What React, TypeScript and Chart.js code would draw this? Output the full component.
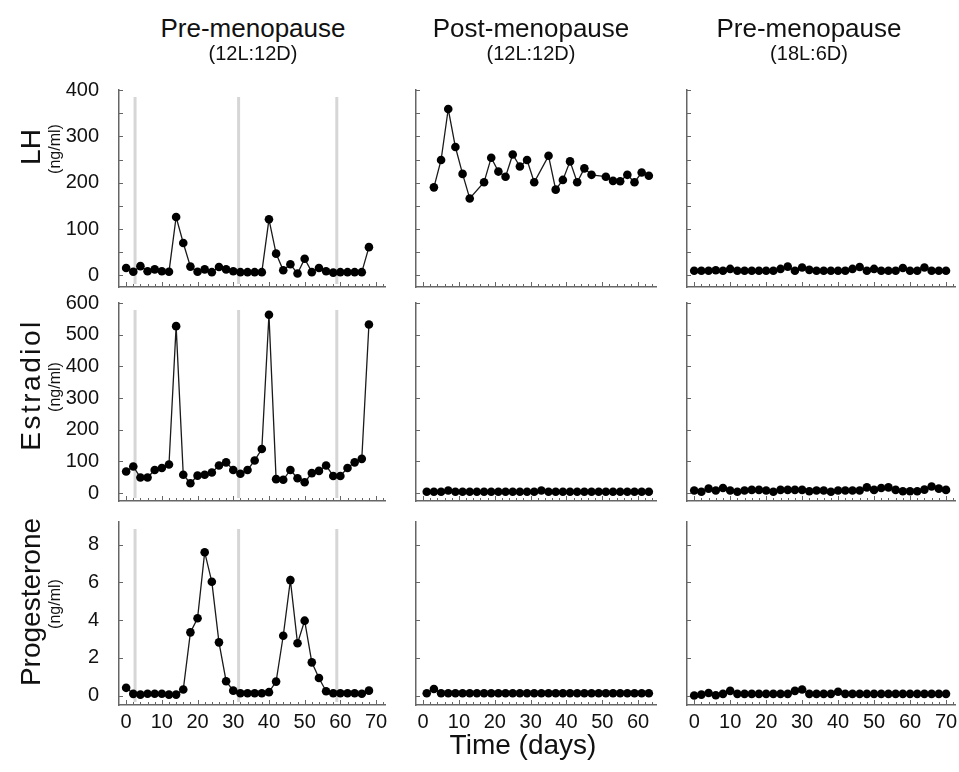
import React, { useEffect, useRef } from "react";
import { Chart, registerables } from "chart.js";

Chart.register(...registerables);

// ---------------- DATA ----------------
// Sampling days
const DAYS_PRE_12 = [0, 2, 4, 6, 8, 10, 12, 14, 16, 18, 20, 22, 24, 26, 28, 30, 32, 34, 36, 38, 40, 42, 44, 46, 48, 50, 52, 54, 56, 58, 60, 62, 64, 66, 68];
const DAYS_POST_LH = [3, 5, 7, 9, 11, 13, 17, 19, 21, 23, 25, 27, 29, 31, 35, 37, 39, 41, 43, 45, 47, 51, 53, 55, 57, 59, 61, 63];
const DAYS_POST = [1, 3, 5, 7, 9, 11, 13, 15, 17, 19, 21, 23, 25, 27, 29, 31, 33, 35, 37, 39, 41, 43, 45, 47, 49, 51, 53, 55, 57, 59, 61, 63];
const DAYS_PRE_18 = [0, 2, 4, 6, 8, 10, 12, 14, 16, 18, 20, 22, 24, 26, 28, 30, 32, 34, 36, 38, 40, 42, 44, 46, 48, 50, 52, 54, 56, 58, 60, 62, 64, 66, 68, 70];

// LH (ng/ml)
const LH_PRE_12 = [16, 8, 20, 9, 13, 9, 8, 126, 70, 19, 8, 13, 7, 18, 13, 9, 7, 7, 7, 7, 121, 47, 11, 24, 4, 36, 7, 16, 9, 6, 7, 7, 7, 7, 61];
const LH_POST = [190, 249, 359, 277, 219, 166, 201, 254, 224, 213, 261, 235, 249, 201, 258, 185, 206, 246, 201, 231, 217, 213, 204, 203, 217, 201, 222, 215];
const LH_PRE_18 = [10, 10, 10, 11, 10, 14, 10, 10, 10, 10, 10, 10, 14, 19, 10, 17, 12, 10, 10, 10, 10, 10, 14, 18, 10, 14, 10, 10, 10, 16, 10, 10, 17, 10, 10, 10];

// Estradiol (ng/ml)
const E2_PRE_12 = [68, 84, 49, 49, 73, 79, 90, 527, 58, 31, 55, 58, 65, 87, 97, 73, 61, 73, 103, 139, 563, 44, 42, 73, 47, 34, 63, 70, 87, 54, 54, 79, 97, 108, 532];
const E2_POST = [4, 4, 4, 8, 4, 4, 4, 4, 4, 4, 4, 4, 4, 4, 4, 4, 8, 4, 4, 4, 4, 4, 4, 4, 4, 4, 4, 4, 4, 4, 4, 4];
const E2_PRE_18 = [8, 4, 14, 8, 16, 8, 4, 8, 10, 10, 8, 4, 10, 10, 10, 10, 6, 8, 8, 4, 8, 8, 8, 8, 18, 10, 16, 18, 10, 6, 6, 6, 11, 21, 14, 10];

// Progesterone (ng/ml)
const P4_PRE_12 = [0.41, 0.09, 0.05, 0.1, 0.1, 0.1, 0.05, 0.05, 0.32, 3.35, 4.1, 7.6, 6.03, 2.82, 0.76, 0.26, 0.12, 0.12, 0.12, 0.12, 0.18, 0.74, 3.17, 6.12, 2.77, 3.97, 1.76, 0.93, 0.23, 0.12, 0.12, 0.12, 0.12, 0.1, 0.26];
const P4_POST = [0.12, 0.35, 0.12, 0.12, 0.12, 0.12, 0.12, 0.12, 0.12, 0.12, 0.12, 0.12, 0.12, 0.12, 0.12, 0.12, 0.12, 0.12, 0.12, 0.12, 0.12, 0.12, 0.12, 0.12, 0.12, 0.12, 0.12, 0.12, 0.12, 0.12, 0.12, 0.12];
const P4_PRE_18 = [0.0, 0.05, 0.14, 0.02, 0.09, 0.25, 0.09, 0.09, 0.09, 0.09, 0.09, 0.09, 0.09, 0.09, 0.25, 0.32, 0.09, 0.09, 0.09, 0.09, 0.2, 0.09, 0.09, 0.09, 0.09, 0.09, 0.09, 0.09, 0.09, 0.09, 0.09, 0.09, 0.09, 0.09, 0.09, 0.09];

// Tick labels
const X_LABELS_70 = [0, 10, 20, 30, 40, 50, 60, 70];
const X_LABELS_60 = [0, 10, 20, 30, 40, 50, 60];
const LH_LABELS = [0, 100, 200, 300, 400];
const E2_LABELS = [0, 100, 200, 300, 400, 500, 600];
const P4_LABELS = [0, 2, 4, 6, 8];

// Lights-off markers (pre-menopause 12L:12D)
const LIGHTS_MARKS = [2.5, 31.5, 59];

const COL_TITLES = ["Pre-menopause", "Post-menopause", "Pre-menopause"];
const COL_SUBTITLES = ["(12L:12D)", "(12L:12D)", "(18L:6D)"];
const ROW_TITLES = ["LH", "Estradiol", "Progesterone"];
const ROW_UNIT = "(ng/ml)";
const X_TITLE = "Time (days)";

// ---------------- LAYOUT / STYLE ----------------
const FONT = '"Liberation Sans", Arial, Helvetica, sans-serif';
const TEXT = "#111";
const AXIS = "#666";
const LIGHT = "#d6d6d6";
const LINE = "#1a1a1a";

const COLS = [
  { left: 119, right: 385, xMax: 72.5 },
  { left: 416, right: 656, xMax: 65 },
  { left: 687, right: 955, xMax: 72.5 },
];
const ROWS = [
  { top: 90, bottom: 287 },
  { top: 303, bottom: 501 },
  { top: 522, bottom: 705 },
];
const PAD_L = 80;
const PAD_R = 20;
const PAD_T = 40;
const PAD_B = 40;

type PanelProps = {
  xs: number[];
  ys: number[];
  col: number;
  row: number;
  xLabels: number[];
  yMin: number;
  yMax: number;
  yLabels: number[];
  yMarkStep: number;
  marks: number[];
};

function Panel(p: PanelProps) {
  const ref = useRef<HTMLCanvasElement>(null);
  const c = COLS[p.col];
  const r = ROWS[p.row];
  const W = c.right - c.left + PAD_L + PAD_R;
  const H = r.bottom - r.top + PAD_T + PAD_B;
  const showX = p.row === 2;
  const showY = p.col === 0;

  useEffect(() => {
    const decor = {
      id: "decor",
      beforeDatasetsDraw(chart: any) {
        const { ctx, chartArea: a, scales } = chart;
        const sx = scales.x;
        const sy = scales.y;
        ctx.save();
        ctx.strokeStyle = LIGHT;
        ctx.lineWidth = 3;
        for (const d of p.marks) {
          const x = sx.getPixelForValue(d);
          ctx.beginPath();
          ctx.moveTo(x, a.top + 7);
          ctx.lineTo(x, a.bottom - 3);
          ctx.stroke();
        }
        ctx.strokeStyle = AXIS;
        ctx.lineWidth = 1;
        for (let v = 0; v <= c.xMax; v += 2) {
          const x = Math.round(sx.getPixelForValue(v)) + 0.5;
          const len = v % 10 === 0 ? 5 : 3;
          ctx.beginPath();
          ctx.moveTo(x, a.bottom);
          ctx.lineTo(x, a.bottom - len);
          ctx.stroke();
        }
        for (let v = 0; v <= p.yMax + 1e-9; v += p.yMarkStep) {
          const y = Math.round(sy.getPixelForValue(v)) + 0.5;
          ctx.beginPath();
          ctx.moveTo(a.left, y);
          ctx.lineTo(a.left + 4, y);
          ctx.stroke();
        }
        ctx.restore();
      },
    };

    const chart = new Chart(ref.current as HTMLCanvasElement, {
      type: "line",
      data: {
        datasets: [
          {
            data: p.xs.map((x, i) => ({ x, y: p.ys[i] })),
            borderColor: LINE,
            borderWidth: 1.3,
            pointRadius: 4.3,
            pointBackgroundColor: "#000",
            pointBorderColor: "#000",
            pointBorderWidth: 0,
            tension: 0,
            fill: false,
          },
        ],
      },
      options: {
        responsive: false,
        animation: false,
        events: [],
        layout: { padding: { left: 0, top: PAD_T, right: PAD_R, bottom: 0 } },
        plugins: {
          legend: { display: false },
          tooltip: { enabled: false },
          title: { display: false },
        },
        scales: {
          x: {
            type: "linear",
            min: -2,
            max: c.xMax,
            grid: { display: false, drawTicks: false },
            border: { display: true, color: AXIS, width: 1.5 },
            ticks: {
              display: showX,
              padding: 5,
              autoSkip: false,
              maxRotation: 0,
              color: TEXT,
              font: { family: FONT, size: 20 },
            },
            afterBuildTicks: (s: any) => {
              s.ticks = p.xLabels.map((v) => ({ value: v }));
            },
            afterFit: (s: any) => {
              s.height = PAD_B;
            },
          },
          y: {
            type: "linear",
            min: p.yMin,
            max: p.yMax,
            grid: { display: false, drawTicks: false },
            border: { display: true, color: AXIS, width: 1.5 },
            ticks: {
              display: showY,
              padding: 20,
              color: TEXT,
              font: { family: FONT, size: 20 },
            },
            afterBuildTicks: (s: any) => {
              s.ticks = p.yLabels.map((v) => ({ value: v }));
            },
            afterFit: (s: any) => {
              s.width = PAD_L;
            },
          },
        },
      } as any,
      plugins: [decor],
    });
    return () => chart.destroy();
  }, []);

  return (
    <canvas
      ref={ref}
      width={W}
      height={H}
      style={{ position: "absolute", left: c.left - PAD_L, top: r.top - PAD_T, width: W, height: H }}
    />
  );
}

function Label(props: { text: string; x: number; y: number; size: number; rotate?: boolean; spacing?: number }) {
  return (
    <div
      style={{
        position: "absolute",
        left: props.x,
        top: props.y,
        transform: `translate(-50%, -50%)${props.rotate ? " rotate(-90deg)" : ""}`,
        fontFamily: FONT,
        fontSize: props.size,
        color: TEXT,
        whiteSpace: "nowrap",
        lineHeight: 1,
        letterSpacing: props.spacing ? props.spacing + "px" : undefined,
      }}
    >
      {props.text}
    </div>
  );
}

export default function App() {
  const panels: PanelProps[] = [
    { xs: DAYS_PRE_12, ys: LH_PRE_12, col: 0, row: 0, xLabels: X_LABELS_70, yMin: -25, yMax: 400, yLabels: LH_LABELS, yMarkStep: 50, marks: LIGHTS_MARKS },
    { xs: DAYS_POST_LH, ys: LH_POST, col: 1, row: 0, xLabels: X_LABELS_60, yMin: -25, yMax: 400, yLabels: LH_LABELS, yMarkStep: 50, marks: [] },
    { xs: DAYS_PRE_18, ys: LH_PRE_18, col: 2, row: 0, xLabels: X_LABELS_70, yMin: -25, yMax: 400, yLabels: LH_LABELS, yMarkStep: 50, marks: [] },
    { xs: DAYS_PRE_12, ys: E2_PRE_12, col: 0, row: 1, xLabels: X_LABELS_70, yMin: -25, yMax: 600, yLabels: E2_LABELS, yMarkStep: 100, marks: LIGHTS_MARKS },
    { xs: DAYS_POST, ys: E2_POST, col: 1, row: 1, xLabels: X_LABELS_60, yMin: -25, yMax: 600, yLabels: E2_LABELS, yMarkStep: 100, marks: [] },
    { xs: DAYS_PRE_18, ys: E2_PRE_18, col: 2, row: 1, xLabels: X_LABELS_70, yMin: -25, yMax: 600, yLabels: E2_LABELS, yMarkStep: 100, marks: [] },
    { xs: DAYS_PRE_12, ys: P4_PRE_12, col: 0, row: 2, xLabels: X_LABELS_70, yMin: -0.5, yMax: 9.2, yLabels: P4_LABELS, yMarkStep: 2, marks: LIGHTS_MARKS },
    { xs: DAYS_POST, ys: P4_POST, col: 1, row: 2, xLabels: X_LABELS_60, yMin: -0.5, yMax: 9.2, yLabels: P4_LABELS, yMarkStep: 2, marks: [] },
    { xs: DAYS_PRE_18, ys: P4_PRE_18, col: 2, row: 2, xLabels: X_LABELS_70, yMin: -0.5, yMax: 9.2, yLabels: P4_LABELS, yMarkStep: 2, marks: [] },
  ];

  const titleX = [253, 531, 809];
  const rowY = [147, 385, 602];
  const rowSpacing = [0, 2.5, 0];

  return (
    <div
      style={{
        position: "absolute",
        left: 0,
        top: 0,
        width: 959,
        height: 772,
        overflow: "hidden",
        background: "#fff",
      }}
    >
      {panels.map((p, i) => (
        <Panel key={i} {...p} />
      ))}
      {COL_TITLES.map((t, i) => (
        <Label key={"t" + i} text={t} x={titleX[i]} y={28} size={26} />
      ))}
      {COL_SUBTITLES.map((t, i) => (
        <Label key={"s" + i} text={t} x={titleX[i]} y={53} size={20} />
      ))}
      {ROW_TITLES.map((t, i) => (
        <Label key={"r" + i} text={t} x={31} y={rowY[i]} size={28} rotate spacing={rowSpacing[i]} />
      ))}
      {ROW_TITLES.map((t, i) => (
        <Label key={"u" + i} text={ROW_UNIT} x={55} y={rowY[i] + 2} size={16} rotate />
      ))}
      <Label text={X_TITLE} x={523} y={745} size={28} />
    </div>
  );
}
